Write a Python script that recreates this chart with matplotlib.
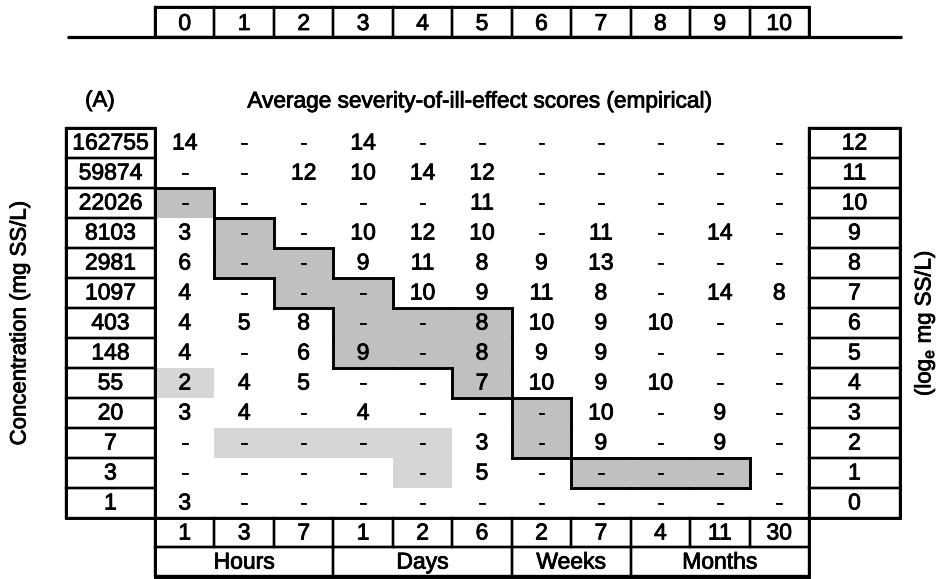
import matplotlib
matplotlib.use("Agg")
import matplotlib.pyplot as plt
import matplotlib.patheffects as pe
from matplotlib.patches import Rectangle
from matplotlib.collections import LineCollection

plt.rcParams['font.family'] = ['Liberation Sans', 'DejaVu Sans']

conc_labels = ["162755", "59874", "22026", "8103", "2981", "1097", "403",
               "148", "55", "20", "7", "3", "1"]
log_labels = ["12", "11", "10", "9", "8", "7", "6", "5", "4", "3", "2", "1", "0"]
top_labels = ["0", "1", "2", "3", "4", "5", "6", "7", "8", "9", "10"]
durations = ["1", "3", "7", "1", "2", "6", "2", "7", "4", "11", "30"]
units = ["Hours", "Days", "Weeks", "Months"]
unit_spans = [3, 3, 2, 3]

# None = "-" (no score)
scores = [
    [14, None, None, 14, None, None, None, None, None, None, None],
    [None, None, 12, 10, 14, 12, None, None, None, None, None],
    [None, None, None, None, None, 11, None, None, None, None, None],
    [3, None, None, 10, 12, 10, None, 11, None, 14, None],
    [6, None, None, 9, 11, 8, 9, 13, None, None, None],
    [4, None, None, None, 10, 9, 11, 8, None, 14, 8],
    [4, 5, 8, None, None, 8, 10, 9, 10, None, None],
    [4, None, 6, 9, None, 8, 9, 9, None, None, None],
    [2, 4, 5, None, None, 7, 10, 9, 10, None, None],
    [3, 4, None, 4, None, None, None, 10, None, 9, None],
    [None, None, None, None, None, 3, None, 9, None, 9, None],
    [None, None, None, None, None, 5, None, None, None, None, None],
    [3, None, None, None, None, None, None, None, None, None, None],
]

# shaded diagonal band: (row, first col, last col)
band_rows = [(2, 0, 0), (3, 1, 1), (4, 1, 2), (5, 2, 3), (6, 3, 5), (7, 3, 5),
             (8, 5, 5), (9, 6, 6), (10, 6, 6), (11, 7, 9)]
# lighter shaded cells without outline
light_cells = [(8, 0), (10, 1), (10, 2), (10, 3), (10, 4), (11, 4)]

# layout (pixels of the 949x579 picture)
col_px, row_px = 59.45, 30.0
x_left_px, y_top_px = 155.0, 128.0
n_rows, n_cols = len(conc_labels), len(durations)

fig = plt.figure(figsize=(9.49, 5.79), dpi=100)
ax = fig.add_axes([0, 0, 1, 1])
ax.set_xlim(-x_left_px / col_px, (949 - x_left_px) / col_px)
ax.set_ylim((579 - y_top_px) / row_px, -y_top_px / row_px)
ax.axis('off')

fs = 16.5
lw_box = 1.7
lw_out = 2.1
# slight stroke to mimic the heavy print of the scan
heavy = [pe.withStroke(linewidth=0.6, foreground='black')]

band = set()
for r, c0, c1 in band_rows:
    for c in range(c0, c1 + 1):
        band.add((r, c))

for r, c in light_cells:
    ax.add_patch(Rectangle((c, r), 1, 1, facecolor='#d6d6d6', edgecolor='none', zorder=1))
for r, c in band:
    ax.add_patch(Rectangle((c, r), 1, 1, facecolor='#c0c0c0', edgecolor='none', zorder=1))

# outline of the band
segs = []
for r, c in band:
    if (r - 1, c) not in band:
        segs.append([(c, r), (c + 1, r)])
    if (r + 1, c) not in band and not (r == 2 and c == 0):
        segs.append([(c, r + 1), (c + 1, r + 1)])
    if (r, c - 1) not in band:
        segs.append([(c, r), (c, r + 1)])
    if (r, c + 1) not in band:
        segs.append([(c + 1, r), (c + 1, r + 1)])
ax.add_collection(LineCollection(segs, colors='black', linewidths=lw_out,
                                 capstyle='projecting', zorder=3))

# cell values
for r in range(n_rows):
    for c in range(n_cols):
        v = scores[r][c]
        txt = "-" if v is None else str(v)
        ax.text(c + 0.5, r + 0.5, txt, ha='center', va='center', fontsize=fs,
                zorder=4, path_effects=heavy)

# left and right label columns
lab_w_left, lab_w_right = 1.5, 1.53
for r in range(n_rows):
    ax.add_patch(Rectangle((-lab_w_left, r), lab_w_left, 1, facecolor='none',
                           edgecolor='black', linewidth=lw_box, zorder=2))
    ax.text(-lab_w_left / 2, r + 0.5, conc_labels[r], ha='center', va='center',
            fontsize=fs, path_effects=heavy)
    ax.add_patch(Rectangle((n_cols, r), lab_w_right, 1, facecolor='none',
                           edgecolor='black', linewidth=lw_box, zorder=2))
    ax.text(n_cols + lab_w_right / 2, r + 0.5, log_labels[r], ha='center', va='center',
            fontsize=fs, path_effects=heavy)
ax.add_patch(Rectangle((-lab_w_left, 0), lab_w_left, n_rows, facecolor='none',
                       edgecolor='black', linewidth=lw_out, zorder=2))
ax.add_patch(Rectangle((n_cols, 0), lab_w_right, n_rows, facecolor='none',
                       edgecolor='black', linewidth=lw_out, zorder=2))

# bottom: durations and units
for c in range(n_cols):
    ax.add_patch(Rectangle((c, n_rows), 1, 0.97, facecolor='none',
                           edgecolor='black', linewidth=lw_box, zorder=2))
    ax.text(c + 0.5, n_rows + 0.5, durations[c], ha='center', va='center',
            fontsize=fs, path_effects=heavy)
start = 0
for u, span in zip(units, unit_spans):
    ax.add_patch(Rectangle((start, n_rows + 0.97), span, 0.98, facecolor='none',
                           edgecolor='black', linewidth=lw_box, zorder=2))
    ax.text(start + span / 2, n_rows + 1.47, u, ha='center', va='center',
            fontsize=fs, path_effects=heavy)
    start += span
ax.add_patch(Rectangle((0, n_rows), n_cols, 1.95, facecolor='none',
                       edgecolor='black', linewidth=lw_out, zorder=2))

# top strip of numbers above a rule
top_y = -(y_top_px - 7) / row_px
rule_y = -(y_top_px - 37) / row_px
for c in range(n_cols):
    ax.add_patch(Rectangle((c, top_y), 1, rule_y - top_y, facecolor='none',
                           edgecolor='black', linewidth=lw_box, zorder=2))
    ax.text(c + 0.5, (top_y + rule_y) / 2 + 0.05, top_labels[c], ha='center', va='center',
            fontsize=fs, path_effects=heavy)
ax.add_patch(Rectangle((0, top_y), n_cols, rule_y - top_y, facecolor='none',
                       edgecolor='black', linewidth=lw_out, zorder=2))
ax.plot([(67 - x_left_px) / col_px, (902 - x_left_px) / col_px], [rule_y, rule_y],
        color='black', linewidth=2.3, solid_capstyle='butt')

# titles
title_y = (101 - y_top_px) / row_px
ax.text((100 - x_left_px) / col_px, title_y, "(A)", ha='center', va='center', fontsize=16,
        path_effects=heavy)
ax.text((480 - x_left_px) / col_px, title_y, "Average severity-of-ill-effect scores (empirical)",
        ha='center', va='center', fontsize=16.3, path_effects=heavy)

ax.text((20 - x_left_px) / col_px, n_rows / 2, "Concentration (mg SS/L)", rotation=90,
        ha='center', va='center', fontsize=16, path_effects=heavy)
ax.text((925 - x_left_px) / col_px, n_rows / 2, r"(log$_\mathregular{e}$ mg SS/L)", rotation=90,
        ha='center', va='center', fontsize=16, path_effects=heavy)

fig.savefig("out.png", dpi=100)
